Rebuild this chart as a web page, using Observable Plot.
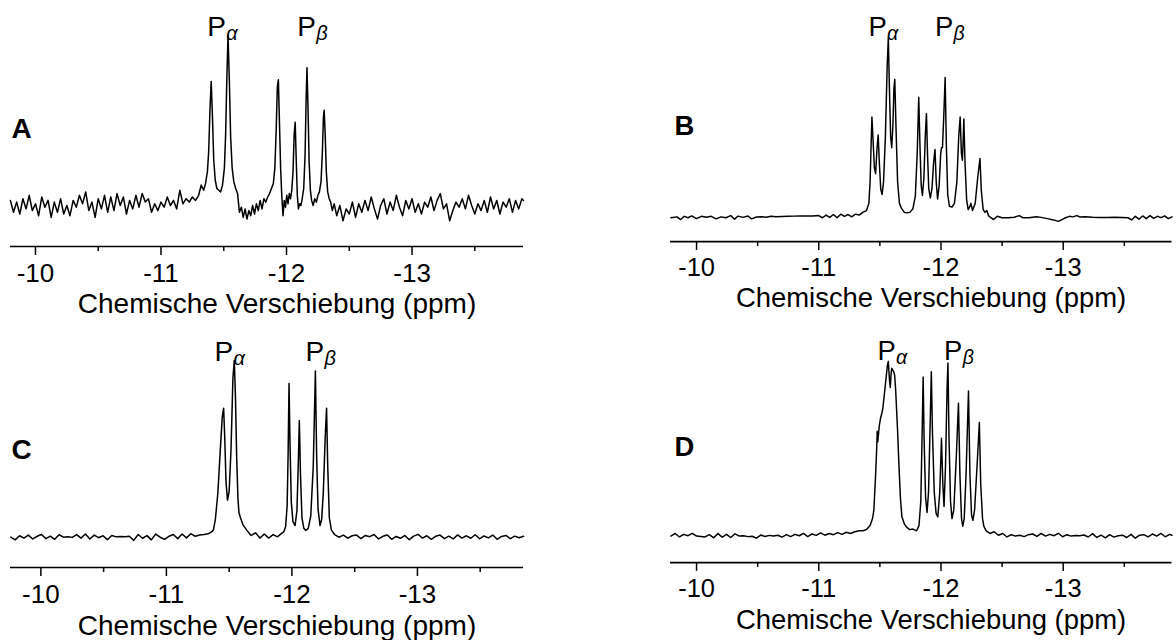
<!DOCTYPE html>
<html><head><meta charset="utf-8">
<script src="https://cdn.jsdelivr.net/npm/d3@7"></script>
<script src="https://cdn.jsdelivr.net/npm/@observablehq/plot@0.6"></script>
<style>
html,body{margin:0;padding:0;background:#fff;overflow:hidden;width:1176px;height:640px;}
#wrap{position:relative;width:1176px;height:640px;overflow:hidden;}
.panel{position:absolute;}
.panel svg text{font-family:"Liberation Sans",Arial,Helvetica,sans-serif;}
</style></head><body><div id="wrap"></div>
<script>
// ---------- data: [chemical shift (ppm), relative intensity] ----------
const specA = [
[-9.800,3],[-9.825,-4],[-9.850,2],[-9.875,-5],[-9.900,4],[-9.925,-2],[-9.950,6],[-9.975,-3],[-10.000,1],[-10.025,-6],
[-10.050,5],[-10.075,-1],[-10.100,3],[-10.125,-7],[-10.150,2],[-10.175,-4],[-10.200,4],[-10.225,-5],[-10.250,0],[-10.275,-6],
[-10.300,3],[-10.325,-1],[-10.350,6],[-10.375,1],[-10.400,8],[-10.425,-3],[-10.450,2],[-10.475,-7],[-10.500,4],[-10.525,-2],
[-10.550,6],[-10.575,-4],[-10.600,5],[-10.625,-3],[-10.650,7],[-10.675,0],[-10.700,5],[-10.725,-5],[-10.750,3],[-10.775,-2],
[-10.800,6],[-10.825,-1],[-10.850,7],[-10.875,2],[-10.900,4],[-10.925,-4],[-10.950,1],[-10.975,-3],[-11.000,2],[-11.025,-1],
[-11.050,5],[-11.075,0],[-11.100,3],[-11.125,-2],[-11.150,9],[-11.175,1],[-11.200,4],[-11.225,2],[-11.250,5],[-11.275,3],
[-11.300,6],[-11.320,12],[-11.340,9],[-11.355,13],[-11.370,20],[-11.380,32],[-11.390,56],[-11.400,73],[-11.410,52],[-11.420,27],
[-11.432,15],[-11.445,10],[-11.460,9],[-11.475,8],[-11.490,12],[-11.505,22],[-11.515,42],[-11.525,76],[-11.534,100],[-11.545,72],
[-11.555,40],[-11.567,22],[-11.580,14],[-11.595,10],[-11.610,7],[-11.625,-4],[-11.640,-1],[-11.655,-7],[-11.670,-2],[-11.685,-8],
[-11.700,-3],[-11.715,-6],[-11.730,0],[-11.745,-5],[-11.760,1],[-11.775,-3],[-11.790,3],[-11.805,-2],[-11.820,4],[-11.835,2],
[-11.850,5],[-11.865,7],[-11.880,10],[-11.895,13],[-11.907,22],[-11.918,45],[-11.927,70],[-11.935,74],[-11.944,48],[-11.953,22],
[-11.962,6],[-11.972,-6],[-11.982,3],[-11.992,-1],[-12.002,6],[-12.012,1],[-12.022,7],[-12.032,4],[-12.042,9],[-12.052,20],
[-12.061,42],[-12.069,49],[-12.077,28],[-12.086,6],[-12.095,-2],[-12.105,1],[-12.115,0],[-12.125,4],[-12.137,10],[-12.148,30],
[-12.156,62],[-12.163,81],[-12.171,58],[-12.180,26],[-12.190,9],[-12.200,3],[-12.212,0],[-12.225,4],[-12.238,2],[-12.250,6],
[-12.262,8],[-12.275,14],[-12.286,32],[-12.294,52],[-12.300,56],[-12.308,42],[-12.317,20],[-12.328,8],[-12.340,4],[-12.352,2],
[-12.365,-3],[-12.380,1],[-12.400,-6],[-12.425,0],[-12.450,-9],[-12.475,-2],[-12.500,-5],[-12.525,2],[-12.550,-7],[-12.575,1],
[-12.600,-4],[-12.625,3],[-12.650,-3],[-12.675,5],[-12.700,-2],[-12.725,-8],[-12.750,0],[-12.775,4],[-12.800,-5],[-12.825,2],
[-12.850,-3],[-12.875,6],[-12.900,-1],[-12.925,-6],[-12.950,3],[-12.975,-2],[-13.000,4],[-13.025,-4],[-13.050,1],[-13.075,-5],
[-13.100,2],[-13.125,-1],[-13.150,5],[-13.175,-3],[-13.200,3],[-13.225,7],[-13.250,-2],[-13.275,1],[-13.300,-9],[-13.325,-3],
[-13.350,2],[-13.375,-1],[-13.400,4],[-13.425,-2],[-13.450,6],[-13.475,0],[-13.500,-5],[-13.525,1],[-13.550,-3],[-13.575,3],
[-13.600,-4],[-13.625,5],[-13.650,-2],[-13.675,3],[-13.700,-5],[-13.725,2],[-13.750,-1],[-13.775,4],[-13.800,-4],[-13.825,3],
[-13.850,-2],[-13.875,4],[-13.888,3]
];
const specB = [
[-9.79,0],[-9.84,0.5],[-9.87,-1],[-9.90,0.8],[-9.93,0],[-9.96,1],[-10.00,-0.5],[-10.04,0.8],[-10.08,0.3],[-10.12,0.8],
[-10.16,-0.6],[-10.20,0.5],[-10.24,0],[-10.28,1.2],[-10.31,-0.8],[-10.34,0.9],[-10.38,0.2],[-10.42,1],[-10.45,-0.6],[-10.49,0.4],
[-10.53,0.6],[-10.57,0.3],[-10.61,0.8],[-10.65,0.6],[-10.70,0.7],[-10.75,0.8],[-10.80,0.9],[-10.85,1],[-10.90,1],[-10.95,1],
[-11.00,1.2],[-11.03,0],[-11.06,1.5],[-11.09,0.2],[-11.12,1.8],[-11.15,0],[-11.18,2],[-11.21,0.8],[-11.24,1.8],[-11.27,0.5],
[-11.30,2],[-11.33,1.5],[-11.36,3],[-11.39,4],[-11.41,8],[-11.42,20],[-11.428,40],[-11.435,56],[-11.445,42],[-11.455,28],
[-11.465,24.5],[-11.476,38],[-11.486,46],[-11.496,30],[-11.507,16],[-11.518,13],[-11.53,20],[-11.545,45],[-11.56,85],[-11.569,100],
[-11.578,72],[-11.588,45],[-11.597,39],[-11.607,52],[-11.615,72],[-11.622,77],[-11.632,50],[-11.645,20],[-11.66,8],[-11.675,5.5],
[-11.70,3],[-11.72,2.7],[-11.745,3],[-11.77,5],[-11.79,12],[-11.805,35],[-11.818,67],[-11.828,40],[-11.838,18],[-11.848,12.4],
[-11.86,22],[-11.872,46],[-11.881,58],[-11.89,35],[-11.90,16],[-11.913,11],[-11.926,16],[-11.94,31],[-11.951,38],[-11.961,20],
[-11.972,10.4],[-11.985,18],[-11.997,35],[-12.004,39],[-12.012,39],[-12.022,55],[-12.034,78],[-12.044,40],[-12.055,13],[-12.069,6.4],
[-12.09,6],[-12.11,8],[-12.13,20],[-12.145,45],[-12.157,56],[-12.167,36],[-12.175,32],[-12.181,42],[-12.187,55],[-12.197,30],
[-12.21,10],[-12.222,4.6],[-12.235,6],[-12.245,8],[-12.258,4],[-12.28,8],[-12.30,22],[-12.319,33],[-12.33,15],[-12.345,4.7],
[-12.36,3],[-12.375,4],[-12.39,1],[-12.40,0.5],[-12.43,-1],[-12.46,0.8],[-12.50,0],[-12.55,0],[-12.60,0.3],[-12.64,1.2],
[-12.67,0],[-12.72,0],[-12.78,0.5],[-12.82,0.2],[-12.87,-0.5],[-12.92,-1.2],[-12.96,-2],[-12.99,-1],[-13.02,0],[-13.05,0.8],
[-13.08,0.5],[-13.11,1.2],[-13.14,0.4],[-13.18,0.5],[-13.24,0.3],[-13.30,0.2],[-13.36,0.2],[-13.42,0.3],[-13.48,0.2],[-13.53,0],
[-13.56,-1.2],[-13.59,0.8],[-13.62,-0.8],[-13.65,1],[-13.68,-0.5],[-13.71,1.2],[-13.74,-0.3],[-13.77,0.8],[-13.80,0.1],[-13.83,1],
[-13.86,-0.5],[-13.89,0.5]
];
const specC = [
[-9.76,0],[-9.795,-1.5],[-9.83,0.8],[-9.865,-0.5],[-9.90,1.2],[-9.935,-1],[-9.97,0.5],[-10.005,1.5],[-10.04,-0.8],[-10.075,0.6],
[-10.11,-1.2],[-10.145,1.4],[-10.18,0],[-10.215,0.2],[-10.25,-0.1],[-10.285,1.5],[-10.32,-0.5],[-10.355,1.8],[-10.39,-1],[-10.425,1.2],
[-10.46,-0.3],[-10.495,0.8],[-10.53,-1.4],[-10.565,1],[-10.60,0.2],[-10.635,0.4],[-10.67,0.3],[-10.705,0.5],[-10.74,-1.8],[-10.775,1.5],
[-10.81,-0.6],[-10.845,0.9],[-10.88,-1.5],[-10.915,1.8],[-10.95,0],[-10.985,-1.2],[-11.02,0.5],[-11.055,1.5],[-11.09,-0.8],[-11.125,1.8],
[-11.16,-0.4],[-11.195,2],[-11.23,0.5],[-11.265,1.2],[-11.30,1.5],[-11.335,2],[-11.36,3],[-11.374,4],[-11.39,10],[-11.41,25],
[-11.43,50],[-11.445,68],[-11.456,73],[-11.465,56],[-11.475,31],[-11.487,21],[-11.50,26],[-11.515,50],[-11.53,90],[-11.541,100],
[-11.55,80],[-11.56,45],[-11.57,22],[-11.578,14],[-11.59,11],[-11.61,7],[-11.64,4],[-11.675,1],[-11.71,2.5],[-11.745,-0.5],
[-11.78,1.8],[-11.815,-0.5],[-11.85,1.5],[-11.885,0.2],[-11.915,2],[-11.935,3],[-11.95,6],[-11.962,18],[-11.97,48],[-11.977,87],
[-11.985,52],[-11.995,20],[-12.008,9],[-12.025,6.6],[-12.04,15],[-12.052,45],[-12.059,66],[-12.068,36],[-12.08,11],[-12.095,5],
[-12.11,3.8],[-12.13,5],[-12.15,12],[-12.17,40],[-12.187,94],[-12.197,46],[-12.208,16],[-12.224,6.6],[-12.237,10],[-12.25,25],
[-12.265,56],[-12.276,73],[-12.285,41],[-12.298,11],[-12.315,4],[-12.34,1.5],[-12.375,0],[-12.41,1.2],[-12.445,-0.5],[-12.48,0.8],
[-12.515,1.2],[-12.55,-0.8],[-12.585,1],[-12.62,0.3],[-12.655,1.5],[-12.69,-1],[-12.725,0.5],[-12.76,1.2],[-12.795,-1.2],[-12.83,0.4],
[-12.865,-0.6],[-12.90,1],[-12.935,-1.4],[-12.97,0.6],[-13.005,1.6],[-13.04,-0.5],[-13.075,0.8],[-13.11,-1.2],[-13.145,0.5],[-13.18,1.2],
[-13.215,-0.8],[-13.25,0.6],[-13.285,-1],[-13.32,1.3],[-13.355,-0.5],[-13.39,0.8],[-13.425,-0.6],[-13.46,1.4],[-13.495,-0.9],[-13.53,0.7],
[-13.565,-0.4],[-13.60,1.2],[-13.635,-1.2],[-13.67,0.4],[-13.705,1],[-13.74,-0.8],[-13.775,0.6],[-13.81,-0.3],[-13.845,0.5]
];
const specD = [
[-9.79,0],[-9.825,1.5],[-9.86,-0.5],[-9.895,1],[-9.93,0.2],[-9.965,1.6],[-10.00,0],[-10.035,-0.2],[-10.07,-0.5],[-10.105,0.8],
[-10.14,-1],[-10.175,1.4],[-10.21,-0.6],[-10.245,1],[-10.28,-0.8],[-10.315,1.3],[-10.35,0],[-10.385,0.2],[-10.42,-0.3],[-10.455,-0.1],
[-10.49,-1.2],[-10.525,0.6],[-10.56,-0.2],[-10.595,0.4],[-10.63,0],[-10.665,0.5],[-10.70,-0.6],[-10.735,0.8],[-10.77,-0.3],[-10.805,1],
[-10.84,0.2],[-10.875,1.5],[-10.91,-0.3],[-10.945,1.2],[-10.98,0.4],[-11.015,1.8],[-11.05,0.5],[-11.085,1.5],[-11.12,0.8],[-11.155,2],
[-11.19,1],[-11.225,2.2],[-11.26,1.5],[-11.295,2.5],[-11.33,3],[-11.36,3],[-11.39,3.8],[-11.42,6],[-11.44,10],[-11.451,15],
[-11.465,35],[-11.475,52],[-11.478,60],[-11.483,54],[-11.495,63],[-11.504,67],[-11.515,70],[-11.524,73],[-11.535,80],[-11.55,90],
[-11.562,98],[-11.569,100],[-11.578,90],[-11.585,85],[-11.592,93],[-11.597,96],[-11.605,95],[-11.614,94],[-11.621,92],[-11.628,85],
[-11.633,78],[-11.645,60],[-11.657,39],[-11.668,22],[-11.68,11],[-11.70,7],[-11.72,5],[-11.745,3.7],[-11.77,4],[-11.80,3],
[-11.82,6],[-11.835,20],[-11.846,60],[-11.854,91],[-11.862,55],[-11.874,22],[-11.886,13.5],[-11.898,25],[-11.91,60],[-11.921,94],
[-11.93,60],[-11.945,25],[-11.96,13],[-11.974,11],[-11.99,25],[-12.004,56],[-12.015,30],[-12.025,17],[-12.037,40],[-12.05,85],
[-12.057,99],[-12.066,55],[-12.078,20],[-12.09,10],[-12.105,15],[-12.125,45],[-12.143,76],[-12.155,35],[-12.168,10],[-12.178,5.6],
[-12.19,10],[-12.205,35],[-12.225,83],[-12.237,35],[-12.25,12],[-12.261,9],[-12.275,15],[-12.295,40],[-12.314,65],[-12.325,30],
[-12.34,10],[-12.351,5.6],[-12.37,3],[-12.40,1.5],[-12.435,2.5],[-12.47,0.5],[-12.505,1.5],[-12.54,-0.5],[-12.575,0.8],[-12.61,0],
[-12.645,0.5],[-12.68,-0.3],[-12.715,0.8],[-12.75,1.2],[-12.785,-0.2],[-12.82,1.5],[-12.855,0],[-12.89,1],[-12.925,0.2],[-12.96,1.6],
[-12.995,-0.4],[-13.03,0.8],[-13.065,0],[-13.10,0.3],[-13.135,0.2],[-13.17,0.6],[-13.205,-0.5],[-13.24,1.4],[-13.275,-0.8],[-13.31,0.6],
[-13.345,-1],[-13.38,0.8],[-13.415,-0.6],[-13.45,0.2],[-13.485,0.5],[-13.52,-0.8],[-13.555,1],[-13.59,-1.2],[-13.625,0.5],[-13.66,0.8],
[-13.695,-0.5],[-13.73,1.2],[-13.765,0],[-13.80,1.5],[-13.835,-0.4],[-13.87,1],[-13.89,0.5]
];
// peak group labels: P with subscript, at the shift where each label starts
const labelSubs = ["α", "β"];
const labelPpmA = [-11.368, -12.085];
const labelPpmB = [-11.406, -11.951];
const labelPpmC = [-11.383, -12.108];
const labelPpmD = [-11.480, -12.025];
const majorTicks = [-10, -11, -12, -13];
const minorTicks = [-10.5, -11.5, -12.5, -13.5];
const axisTitle = "Chemische Verschiebung (ppm)";
const panelNames = ["A", "B", "C", "D"];

// ---------- layout ----------
const panels = [
  {name: panelNames[0], data: specA, labels: labelPpmA, labelY: 100, left: 0,   top: 0,   width: 588, ml: 10,   mr: 65,  mb: 74, titleDy: 47, domain: [-9.801, -13.888], base: 205,   peak: 35,   letterDx: 1},
  {name: panelNames[1], data: specB, labels: labelPpmB, labelY: 101, left: 588, top: 0,   width: 600, ml: 83.7, mr: 4.6, mb: 74, titleDy: 47, domain: [-9.787, -13.89],  base: 221.7, peak: 38.3, letterDx: 4},
  {name: panelNames[2], data: specC, labels: labelPpmC, labelY: 100, left: 0,   top: 320, width: 588, ml: 10,   mr: 65,  mb: 73, titleDy: 48, domain: [-9.758, -13.845], base: 216.7, peak: 40,   letterDx: 1},
  {name: panelNames[3], data: specD, labels: labelPpmD, labelY: 101, left: 588, top: 320, width: 600, ml: 83.7, mr: 4.6, mb: 73, titleDy: 48, domain: [-9.787, -13.89],  base: 220,   peak: 41.7, letterDx: 4}
];
const H = 320, MT = 10;
const font = "'Liberation Sans', Arial, Helvetica, sans-serif";
const wrap = document.getElementById("wrap");

for (const p of panels) {
  const k = (p.base - p.peak) / 100;
  const axisPx = H - p.mb;
  const yLo = -(axisPx - p.base) / k;
  const yHi = (p.base - MT) / k;
  const rows = p.data.map(([ppm, v]) => ({ppm, v}));
  const labs = p.labels.map((ppm, i) => ({ppm, y: p.labelY, sub: labelSubs[i]}));
  const chart = Plot.plot({
    width: p.width, height: H,
    marginLeft: p.ml, marginRight: p.mr, marginTop: MT, marginBottom: p.mb,
    style: {fontFamily: font, background: "transparent", overflow: "visible", color: "black"},
    x: {domain: p.domain, axis: null},
    y: {domain: [yLo, yHi], axis: null},
    marks: [
      Plot.lineY(rows, {x: "ppm", y: "v", stroke: "black", strokeWidth: 1.5, strokeLinejoin: "round"}),
      Plot.ruleY([yLo], {stroke: "black", strokeWidth: 1.7}),
      Plot.axisX({ticks: majorTicks, tickSize: 9, tickPadding: 8, tickFormat: d => String(d), fontSize: 26, strokeWidth: 1.5, label: null, fill: "black"}),
      Plot.axisX({ticks: minorTicks, tickSize: 5, tickFormat: () => "", strokeWidth: 1.5, label: null}),
      Plot.text([axisTitle], {text: d => d, frameAnchor: "bottom", dy: p.titleDy, dx: 10, lineAnchor: "top", fontSize: 28, fill: "black"}),
      Plot.text([p.name], {text: d => d, frameAnchor: "bottom-left", dx: p.letterDx, dy: -109, textAnchor: "start", lineAnchor: "bottom", fontSize: 28, fontWeight: "bold", fill: "black"}),
      Plot.text(labs, {x: "ppm", y: "y", text: () => "P", textAnchor: "start", lineAnchor: "bottom", fontSize: 28, fill: "black"}),
      Plot.text(labs, {x: "ppm", y: "y", text: "sub", dx: 19, dy: 4, textAnchor: "start", lineAnchor: "bottom", fontSize: 20, fontStyle: "italic", fill: "black"})
    ]
  });
  const div = document.createElement("div");
  div.className = "panel";
  div.style.left = p.left + "px";
  div.style.top = p.top + "px";
  div.appendChild(chart);
  wrap.appendChild(div);
}
</script></body></html>
